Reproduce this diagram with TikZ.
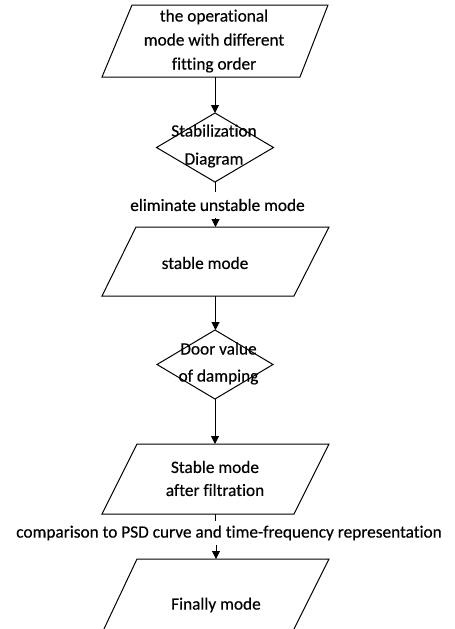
\documentclass[tikz,border=0pt]{standalone}
\usepackage{fontspec}
\setmainfont{Carlito}[Ligatures=NoCommon,FakeBold=0.4]
\usetikzlibrary{arrows.meta}
\begin{document}
\begin{tikzpicture}[x=1pt,y=-1pt,
  shp/.style={inner sep=0pt, outer sep=0pt},
  outl/.style={line width=1pt, line join=miter},
  txt/.style={inner sep=0pt, align=center, font=\fontsize{17.3}{#1}\selectfont},
  txt/.default=24,
  lbl/.style={inner sep=0pt, font=\fontsize{17.3}{20}\selectfont},
  ln/.style={line width=1pt},
  arr/.style={line width=1pt, -{Triangle[length=8pt,width=8pt]}}]
\useasboundingbox (0,0) rectangle (455,629);
% shapes
\node[shp, minimum width=226pt, minimum height=72pt] (p1) at (215,41) {};
\draw[outl] ([xshift=30pt]p1.north west) -- (p1.north east) -- ([xshift=-28pt]p1.south east) -- (p1.south west) -- cycle;
\node[shp, minimum width=117pt, minimum height=69pt] (d1) at (215,147.5) {};
\draw[outl] (d1.north) -- (d1.east) -- (d1.south) -- (d1.west) -- cycle;
\node[shp, minimum width=227pt, minimum height=69pt] (p2) at (215.5,261.5) {};
\draw[outl] ([xshift=34pt]p2.north west) -- (p2.north east) -- ([xshift=-35pt]p2.south east) -- (p2.south west) -- cycle;
\node[shp, minimum width=116pt, minimum height=69pt] (d2) at (215,364.5) {};
\draw[outl] (d2.north) -- (d2.east) -- (d2.south) -- (d2.west) -- cycle;
\node[shp, minimum width=227pt, minimum height=70pt] (p3) at (215.5,479) {};
\draw[outl] ([xshift=35pt]p3.north west) -- (p3.north east) -- ([xshift=-35pt]p3.south east) -- (p3.south west) -- cycle;
\node[shp, minimum width=226pt, minimum height=72pt] (p4) at (216,595) {};
\draw[outl] (p4.south west) -- ([xshift=34pt]p4.north west) -- (p4.north east) -- ([xshift=-36pt]p4.south east);
% texts
\node[txt=24] (t1) at (214,41) {the operational\\mode with different\\fitting order};
\node[txt=28] (t2) at (214,146) {Stabilization\\Diagram};
\node[txt] (t3) at (205,263) {stable mode};
\node[txt=27] (t4) at (218.5,363.5) {Door value\\of damping};
\node[txt=23] (t5) at (215,478.5) {Stable mode\\after filtration};
\node[txt] (t6) at (216,605) {Finally mode};
% labels
\node[lbl, minimum height=25pt] (l1) at (217.5,205) {eliminate unstable mode};
\node[lbl, minimum height=23pt] (l2) at (229,533) {comparison to PSD curve and time-frequency representation};
% connectors
\draw[arr] (p1.south) -- (d1.north);
\draw[ln] (d1.south) -- (d1.south |- l1.north);
\draw[arr] (l1.south -| p2.north) -- (p2.north);
\draw[arr] (p2.south) -- (p2.south |- d2.north);
\draw[arr] (d2.south) -- (d2.south |- p3.north);
\draw[ln] (p3.south) -- (p3.south |- l2.north);
\draw[arr] (l2.south -| p4.north) -- (p4.north);
\end{tikzpicture}
\end{document}
